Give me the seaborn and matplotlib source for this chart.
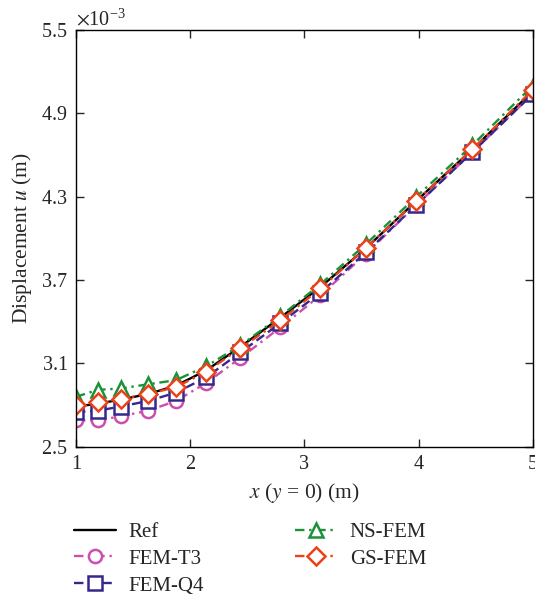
import matplotlib
matplotlib.use('Agg')
import matplotlib.pyplot as plt
import seaborn as sns
import numpy as np
from matplotlib.ticker import ScalarFormatter, FixedLocator

# x positions of the nodes along y = 0
x_nodes = [1.0, 1.19, 1.39, 1.63, 1.875, 2.14, 2.44, 2.79, 3.14, 3.54, 3.98, 4.47, 5.0]

# displacement u (x 1e-3 m)
u_ref = [2.79, 2.81, 2.84, 2.88, 2.94, 3.05, 3.22, 3.43, 3.65, 3.93, 4.27, 4.64, 5.06]
u_t3 = [2.69, 2.69, 2.72, 2.76, 2.83, 2.96, 3.14, 3.36, 3.59, 3.89, 4.24, 4.62, 5.04]
u_q4 = [2.75, 2.76, 2.79, 2.83, 2.89, 3.00, 3.18, 3.39, 3.61, 3.90, 4.24, 4.62, 5.04]
u_ns = [2.86, 2.91, 2.92, 2.95, 2.98, 3.08, 3.23, 3.44, 3.67, 3.96, 4.30, 4.67, 5.10]
u_gs = [2.80, 2.82, 2.845, 2.88, 2.93, 3.04, 3.21, 3.41, 3.64, 3.93, 4.27, 4.64, 5.07]

sns.set_style('white')
plt.rcParams['font.family'] = ['Liberation Serif', 'DejaVu Serif']
plt.rcParams['mathtext.fontset'] = 'stix'

fig = plt.figure(figsize=(5.35, 5.99), dpi=100)
ax = fig.add_axes([0.142, 0.254, 0.854, 0.696])

series = [
    ('Ref', u_ref, 'black', None, '-'),
    ('FEM-T3', u_t3, '#cc4fae', 'o', (0, (4, 2, 1, 2))),
    ('FEM-Q4', u_q4, '#35288c', 's', (0, (4, 2))),
    ('NS-FEM', u_ns, '#1b9238', '^', (0, (4, 2, 1, 2))),
    ('GS-FEM', u_gs, '#ec4119', 'D', (0, (4, 2, 1, 2))),
]

for name, vals, col, mk, ls in series:
    y = np.array(vals) * 1e-3
    if mk is None:
        sns.lineplot(x=x_nodes, y=y, ax=ax, color=col, linewidth=1.7, label=name)
    else:
        ms = 9.5 if mk != 'D' else 9
        sns.lineplot(x=x_nodes, y=y, ax=ax, color=col, linewidth=1.7, linestyle=ls,
                     marker=mk, markersize=ms, markerfacecolor='white',
                     markeredgecolor=col, markeredgewidth=1.8, label=name)

ax.set_xlim(1, 5)
ax.set_ylim(2.5e-3, 5.5e-3)
ax.xaxis.set_major_locator(FixedLocator([1, 2, 3, 4, 5]))
ax.yaxis.set_major_locator(FixedLocator(np.array([2.5, 3.1, 3.7, 4.3, 4.9, 5.5]) * 1e-3))
fmt = ScalarFormatter(useMathText=True)
fmt.set_powerlimits((0, 0))
ax.yaxis.set_major_formatter(fmt)
ax.ticklabel_format(axis='y', style='sci', scilimits=(0, 0))
ax.tick_params(direction='in', length=6, width=1, labelsize=14.5, top=True, right=True,
               bottom=True, left=True, pad=6)
ax.yaxis.get_offset_text().set_fontsize(14.5)
for sp in ax.spines.values():
    sp.set_color('black')
    sp.set_linewidth(1)

ax.set_xlabel(r'$x$ ($y$ = 0) (m)', fontsize=15.5, labelpad=5)
ax.set_ylabel(r'Displacement $u$ (m)', fontsize=15.5, labelpad=5)

handles, labels = ax.get_legend_handles_labels()
ax.get_legend().remove()
fig.legend(handles, labels, ncol=2, loc='upper left', bbox_to_anchor=(0.123, 0.142),
           frameon=False, fontsize=15, handlelength=2.0, columnspacing=4.4,
           labelspacing=0.35, handletextpad=0.6, borderaxespad=0)

fig.savefig('out.png', dpi=100)
